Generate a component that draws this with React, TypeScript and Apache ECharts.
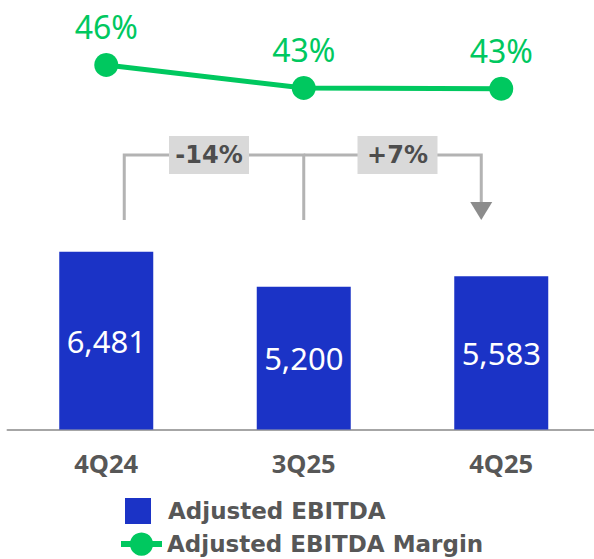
import React, { useEffect, useRef } from "react";
import * as echarts from "echarts";

const categories = ["4Q24", "3Q25", "4Q25"];
const ebitda = [6481, 5200, 5583];
const ebitdaMargin = [46, 43, 42.9];
const changeLabels = ["-14%", "+7%"];

const FONT = "'Noto Sans', 'Open Sans', sans-serif";
const WIDE = "'DejaVu Sans', 'Noto Sans', sans-serif";
const BLUE = "#1b33c6";
const GREEN = "#00c85f";
const GREY_TEXT = "#575757";

export default function App() {
  const ref = useRef<HTMLDivElement>(null);

  useEffect(() => {
    if (!ref.current) return;
    const chart = echarts.init(ref.current, null, { renderer: "svg" });
    const option: any = {
      animation: false,
      textStyle: { fontFamily: FONT },
      grid: [
        { left: 7.5, width: 592.5, top: 155.2, height: 274.3 },
        { left: 7.5, width: 592.5, top: 34.3, height: 153.3 },
      ],
      xAxis: [
        {
          type: "category",
          gridIndex: 0,
          data: categories,
          axisLine: { lineStyle: { color: "#a6a6a6", width: 2 } },
          axisTick: { show: false },
          axisLabel: {
            margin: 20,
            fontSize: 25.5,
            fontWeight: "bold",
            color: GREY_TEXT,
            fontFamily: FONT,
          },
        },
        {
          type: "category",
          gridIndex: 1,
          data: categories,
          show: false,
        },
      ],
      yAxis: [
        { type: "value", gridIndex: 0, min: 0, max: 10000, show: false, splitLine: { show: false } },
        { type: "value", gridIndex: 1, min: 30, max: 50, show: false, splitLine: { show: false } },
      ],
      legend: [
        {
          data: [{ name: "Adjusted EBITDA", icon: "rect" }],
          left: 125,
          top: 498,
          padding: 0,
          itemWidth: 26,
          itemHeight: 26,
          selectedMode: false,
          textStyle: {
            fontSize: 23,
            fontWeight: "bold",
            color: GREY_TEXT,
            fontFamily: WIDE,
            padding: [0, 0, 0, 12],
          },
        },
        {
          data: ["Adjusted EBITDA Margin"],
          left: 118,
          top: 532.5,
          padding: 0,
          itemWidth: 41,
          itemHeight: 29,
          selectedMode: false,
          lineStyle: { width: 6 },
          textStyle: {
            fontSize: 23,
            fontWeight: "bold",
            color: GREY_TEXT,
            fontFamily: WIDE,
            padding: [0, 0, 0, 0],
          },
        },
      ],
      series: [
        {
          name: "Adjusted EBITDA",
          type: "bar",
          xAxisIndex: 0,
          yAxisIndex: 0,
          data: ebitda,
          barWidth: 94,
          itemStyle: { color: BLUE },
          label: {
            show: true,
            position: "inside",
            color: "#ffffff",
            fontSize: 31,
            fontFamily: FONT,
            formatter: (p: any) => Number(p.value).toLocaleString("en-US"),
          },
        },
        {
          name: "Adjusted EBITDA Margin",
          type: "line",
          xAxisIndex: 1,
          yAxisIndex: 1,
          data: ebitdaMargin,
          symbol: "circle",
          symbolSize: 24,
          lineStyle: { color: GREEN, width: 5 },
          itemStyle: { color: GREEN },
          label: {
            show: true,
            position: "top",
            distance: 10,
            color: GREEN,
            fontSize: 32,
            fontFamily: FONT,
            formatter: (p: any) => Math.round(p.value) + "%",
          },
        },
      ],
    };
    chart.setOption(option);

    const cx = (i: number) => chart.convertToPixel({ xAxisIndex: 0 }, categories[i]) as number;
    const x0 = cx(0) + 18;
    const x1 = cx(1);
    const x2 = cx(2) - 20;
    const yTop = 155;
    const yBot = 220;
    const arrowTop = 202;
    const lineStyle = { stroke: "#b3b3b3", lineWidth: 3, fill: null };
    const boxW = 80;
    const boxH = 38;
    const box = (cxBox: number, text: string) => ({
      type: "group",
      x: cxBox - boxW / 2,
      y: yTop - boxH / 2,
      children: [
        { type: "rect", shape: { x: 0, y: 0, width: boxW, height: boxH }, style: { fill: "#d9d9d9" } },
        {
          type: "text",
          x: boxW / 2,
          y: boxH / 2,
          style: {
            text,
            fill: "#4d4d4d",
            font: `bold 24px ${WIDE}`,
            textAlign: "center",
            textVerticalAlign: "middle",
          },
        },
      ],
    });

    chart.setOption({
      graphic: [
        {
          type: "polyline",
          shape: { points: [[x0, yBot], [x0, yTop], [x1, yTop], [x1, yBot]] },
          style: lineStyle,
        },
        {
          type: "polyline",
          shape: { points: [[x1, yTop], [x2, yTop], [x2, arrowTop + 1]] },
          style: lineStyle,
        },
        {
          type: "polygon",
          shape: { points: [[x2 - 11, arrowTop], [x2 + 11, arrowTop], [x2, yBot]] },
          style: { fill: "#8c8c8c" },
        },
        box((x0 + x1) / 2 - 5, changeLabels[0]),
        box((x1 + x2) / 2 + 5, changeLabels[1]),
      ],
    });

    return () => chart.dispose();
  }, []);

  return (
    <div
      style={{
        position: "absolute",
        left: 0,
        top: 0,
        width: 594,
        height: 559,
        overflow: "hidden",
        background: "#ffffff",
      }}
    >
      <div ref={ref} style={{ width: 600, height: 559 }} />
    </div>
  );
}
